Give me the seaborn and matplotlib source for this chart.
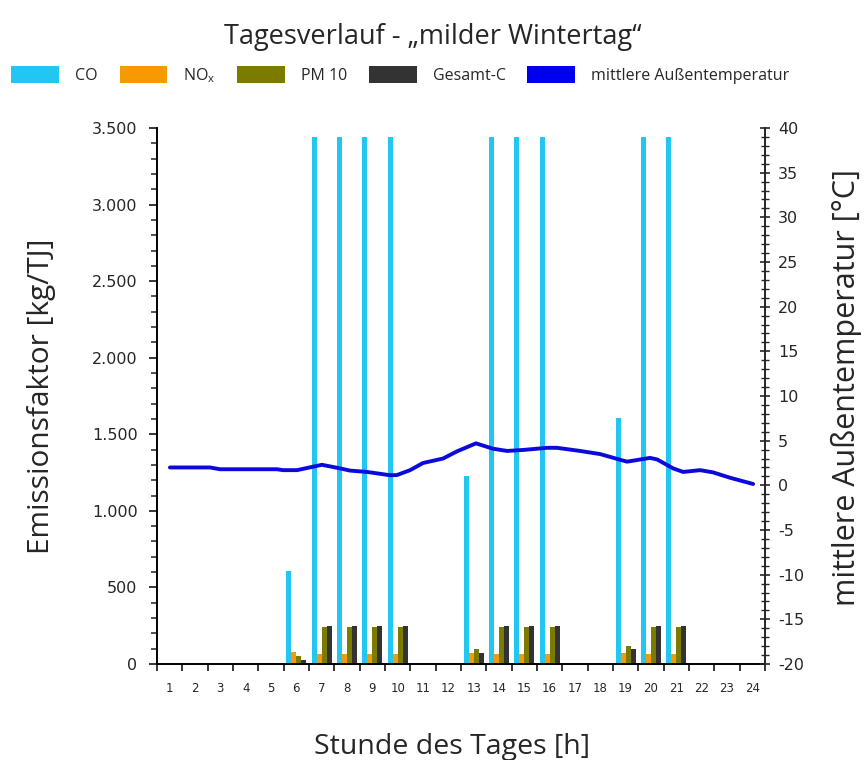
import numpy as np
import pandas as pd
import matplotlib
matplotlib.use("Agg")
import matplotlib.pyplot as plt
from matplotlib.patches import Patch
from matplotlib.ticker import FuncFormatter, MultipleLocator
import seaborn as sns

# ---- data ----
hours = list(range(1, 25))
co = [0, 0, 0, 0, 0, 610, 3440, 3440, 3440, 3440, 0, 0,
      1230, 3440, 3440, 3440, 0, 0, 1606, 3440, 3440, 0, 0, 0]
nox = [0, 0, 0, 0, 0, 80, 64, 64, 64, 64, 0, 0,
       72, 64, 64, 64, 0, 0, 72, 64, 64, 0, 0, 0]
pm10 = [0, 0, 0, 0, 0, 54, 244, 244, 244, 244, 0, 0,
        96, 244, 244, 244, 0, 0, 117, 244, 244, 0, 0, 0]
gesamt_c = [0, 0, 0, 0, 0, 26, 250, 250, 250, 250, 0, 0,
            70, 250, 250, 250, 0, 0, 96, 250, 250, 0, 0, 0]

temp_hour = [1.01, 2.59, 2.99, 5.24, 5.47, 6.03, 7.01, 7.72, 8.12, 8.79, 9.70,
             9.97, 10.49, 11.0, 11.79, 12.34, 13.09, 13.76, 14.32, 14.95, 15.9,
             16.29, 17.2, 17.99, 19.05, 19.96, 20.24, 20.87, 21.27, 21.94,
             22.45, 23.12, 24.03]
temp_val = [2.0, 2.0, 1.8, 1.8, 1.7, 1.7, 2.3, 1.9, 1.65, 1.5, 1.13,
            1.15, 1.7, 2.5, 3.0, 3.8, 4.7, 4.1, 3.85, 3.96, 4.2,
            4.2, 3.85, 3.5, 2.65, 3.07, 2.9, 1.9, 1.5, 1.7,
            1.45, 0.85, 0.15]

series = ["CO", "NOx", "PM 10", "Gesamt-C"]
colors = ["#22C6F0", "#F59A00", "#7B7B00", "#333333"]
temp_color = "#0A0ADC"

df = pd.DataFrame({
    "Stunde": hours * 4,
    "Wert": co + nox + pm10 + gesamt_c,
    "Stoff": sum([[s] * 24 for s in series], []),
})

sns.set_style("ticks")
plt.rcParams["font.family"] = ["DejaVu Sans"]
plt.rcParams["axes.unicode_minus"] = False
label_font = ["Open Sans", "DejaVu Sans"]

fig = plt.figure(figsize=(8.65, 7.6), dpi=100)
ax = fig.add_axes([0.1815, 0.1263, 0.7029, 0.7053])

sns.barplot(data=df, x="Stunde", y="Wert", hue="Stoff", hue_order=series,
            palette=colors, saturation=1, width=0.78, legend=False, ax=ax,
            linewidth=0, edgecolor="none")

ax.set_xlim(-0.5, 23.5)
ax.set_ylim(0, 3500)
ax.yaxis.set_major_locator(MultipleLocator(500))
ax.yaxis.set_minor_locator(MultipleLocator(100))
ax.yaxis.set_major_formatter(FuncFormatter(lambda v, p: f"{int(v):,}".replace(",", ".")))
ax.tick_params(axis="y", which="major", length=6, width=1.3, labelsize=11.5, pad=8)
ax.tick_params(axis="y", which="minor", length=4, width=1.1)

ax.set_xticks(range(24))
ax.set_xticklabels([str(h) for h in hours])
ax.set_xticks(np.arange(-0.5, 24, 1), minor=True)
ax.tick_params(axis="x", which="major", length=0, labelsize=8.5, pad=13)
ax.tick_params(axis="x", which="minor", length=5, width=1.3, direction="out")

ax.set_xlabel("Stunde des Tages [h]", fontsize=20.5, family=label_font, labelpad=27)
ax.xaxis.label.set_x(0.485)
ax.set_ylabel("Emissionsfaktor [kg/TJ]", fontsize=21.5, family=label_font, labelpad=26)

for side in ["left", "bottom"]:
    ax.spines[side].set_linewidth(1.4)
    ax.spines[side].set_color("black")
ax.spines["top"].set_visible(False)
ax.spines["right"].set_visible(False)

ax2 = ax.twinx()
sns.lineplot(x=np.array(temp_hour) - 1, y=temp_val, ax=ax2, color=temp_color,
             lw=2.8)
ax2.set_ylim(-20, 40)
ax2.yaxis.set_major_locator(MultipleLocator(5))
ax2.yaxis.set_minor_locator(MultipleLocator(1))
ax2.tick_params(axis="y", which="major", direction="inout", length=7, width=1.2,
                labelsize=11.5, pad=6)
ax2.tick_params(axis="y", which="minor", direction="inout", length=6, width=1.0)
ax2.set_ylabel("mittlere Außentemperatur [°C]", fontsize=22, family=label_font,
               labelpad=19)
ax2.yaxis.label.set_y(0.515)
ax2.spines["right"].set_linewidth(1.4)
ax2.spines["top"].set_visible(False)
ax2.spines["left"].set_visible(False)
ax2.spines["bottom"].set_visible(False)

fig.suptitle("Tagesverlauf - „milder Wintertag“", fontsize=19.5, family=label_font,
             x=0.5, y=0.97)

handles = [Patch(facecolor=c, edgecolor="none") for c in colors]
handles.append(Patch(facecolor="#0000F0", edgecolor="none"))
labels = ["CO", "NO$_\\mathregular{x}$", "PM 10", "Gesamt-C", "mittlere Außentemperatur"]
fig.legend(handles, labels, loc="center", bbox_to_anchor=(0.463, 0.901), ncol=5,
           frameon=False, prop={"family": label_font, "size": 11.5},
           handlelength=3.0, handleheight=1.25, handletextpad=1.0, columnspacing=1.35)

fig.savefig("out.png", dpi=100)
